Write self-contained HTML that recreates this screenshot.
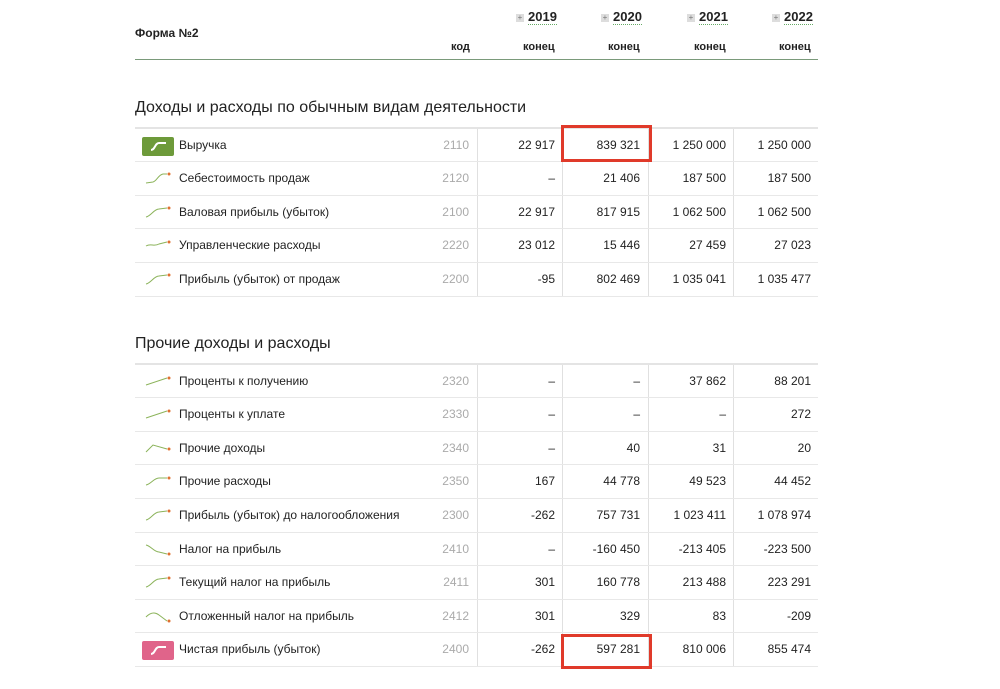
<!DOCTYPE html>
<html><head><meta charset="utf-8"><style>
*{margin:0;padding:0;box-sizing:border-box}
body{width:1000px;height:689px;background:#fff;font-family:"Liberation Sans",sans-serif;color:#222;position:relative;overflow:hidden}
.a{position:absolute}
.h{font-weight:bold;font-size:12px}
.yr{font-weight:bold;font-size:13px;border-bottom:1px dotted #6a6;line-height:15px}
.pl{display:inline-block;width:8px;height:8px;background:#ddd;color:#777;font-size:8px;line-height:8px;text-align:center;margin-right:4px;vertical-align:1px}
.t{font-size:16px;color:#222}
.r{position:absolute;left:135px;width:683px;height:34px;border-top:1px solid #e8e8e8;font-size:12px}
.r .n{position:absolute;left:44px;top:9px}
.r .c{position:absolute;right:349px;top:9px;color:#aaa}
.r .v{position:absolute;top:9px;text-align:right;width:80px}
.v1{left:340px}.v2{left:425px}.v3{left:511px}.v4{left:596px}
.r svg{position:absolute;left:10px;top:9px}
.vl{position:absolute;width:1px;background:#e0e0e0}
.box{position:absolute;border:3px solid #e03a2a}
</style></head><body>
<div class="a h" style="left:135px;top:26px">Форма №2</div>
<div class="a" style="left:516px;top:8px"><span class="pl">+</span><span class="yr">2019</span></div>
<div class="a" style="left:601px;top:8px"><span class="pl">+</span><span class="yr">2020</span></div>
<div class="a" style="left:687px;top:8px"><span class="pl">+</span><span class="yr">2021</span></div>
<div class="a" style="left:772px;top:8px"><span class="pl">+</span><span class="yr">2022</span></div>
<div class="a h" style="left:451px;top:41px;font-size:11px">код</div>
<div class="a h" style="left:523px;top:41px;font-size:11px">конец</div>
<div class="a h" style="left:608px;top:41px;font-size:11px">конец</div>
<div class="a h" style="left:694px;top:41px;font-size:11px">конец</div>
<div class="a h" style="left:779px;top:41px;font-size:11px">конец</div>
<div class="a" style="left:135px;top:59px;width:683px;height:1px;background:#7a9a7a"></div>

<div class="a t" style="left:135px;top:99px">Доходы и расходы по обычным видам деятельности</div>
<div class="vl" style="left:477px;top:127px;height:169px"></div>
<div class="vl" style="left:562px;top:127px;height:169px"></div>
<div class="vl" style="left:648px;top:127px;height:169px"></div>
<div class="vl" style="left:733px;top:127px;height:169px"></div>

<div class="r" style="top:127px;border-top:2px solid #e4e4e4"><div class="a" style="left:7px;top:8px;width:32px;height:19px;background:#6d9a3a;border-radius:2px"><svg width="32" height="19" style="left:0;top:0"><path d="M9 13 C13 13 13 6 17 6 L24 6" stroke="#fff" stroke-width="2" fill="none"/></svg></div><span class="n">Выручка</span><span class="c">2110</span><span class="v v1">22 917</span><span class="v v2">839 321</span><span class="v v3">1 250 000</span><span class="v v4">1 250 000</span></div>
<div class="r" style="top:161px"><svg width="28" height="14"><path d="M1 12 L8 11 C12 10 13 4 18 3 L22 3" stroke="#8bb35a" fill="none"/><circle cx="24" cy="3" r="1.5" fill="#e07030"/></svg><span class="n">Себестоимость продаж</span><span class="c">2120</span><span class="v v1">–</span><span class="v v2">21 406</span><span class="v v3">187 500</span><span class="v v4">187 500</span></div>
<div class="r" style="top:195px"><svg width="28" height="14"><path d="M1 12 C6 11 9 4 14 4 L22 3" stroke="#8bb35a" fill="none"/><circle cx="24" cy="3" r="1.5" fill="#e07030"/></svg><span class="n">Валовая прибыль (убыток)</span><span class="c">2100</span><span class="v v1">22 917</span><span class="v v2">817 915</span><span class="v v3">1 062 500</span><span class="v v4">1 062 500</span></div>
<div class="r" style="top:228px"><svg width="28" height="14"><path d="M1 8 C6 5 9 9 14 6 L22 4" stroke="#8bb35a" fill="none"/><circle cx="24" cy="4" r="1.5" fill="#e07030"/></svg><span class="n">Управленческие расходы</span><span class="c">2220</span><span class="v v1">23 012</span><span class="v v2">15 446</span><span class="v v3">27 459</span><span class="v v4">27 023</span></div>
<div class="r" style="top:262px"><svg width="28" height="14"><path d="M1 12 C6 11 9 4 14 4 L22 3" stroke="#8bb35a" fill="none"/><circle cx="24" cy="3" r="1.5" fill="#e07030"/></svg><span class="n">Прибыль (убыток) от продаж</span><span class="c">2200</span><span class="v v1">-95</span><span class="v v2">802 469</span><span class="v v3">1 035 041</span><span class="v v4">1 035 477</span></div>
<div class="a" style="left:135px;top:296px;width:683px;height:1px;background:#e8e8e8"></div>

<div class="a t" style="left:135px;top:335px">Прочие доходы и расходы</div>
<div class="vl" style="left:477px;top:363px;height:303px"></div>
<div class="vl" style="left:562px;top:363px;height:303px"></div>
<div class="vl" style="left:648px;top:363px;height:303px"></div>
<div class="vl" style="left:733px;top:363px;height:303px"></div>

<div class="r" style="top:363px;border-top:2px solid #e4e4e4"><svg width="28" height="14"><path d="M1 11 L22 4" stroke="#8bb35a" fill="none"/><circle cx="24" cy="4" r="1.5" fill="#e07030"/></svg><span class="n">Проценты к получению</span><span class="c">2320</span><span class="v v1">–</span><span class="v v2">–</span><span class="v v3">37 862</span><span class="v v4">88 201</span></div>
<div class="r" style="top:397px"><svg width="28" height="14"><path d="M1 11 L22 4" stroke="#8bb35a" fill="none"/><circle cx="24" cy="4" r="1.5" fill="#e07030"/></svg><span class="n">Проценты к уплате</span><span class="c">2330</span><span class="v v1">–</span><span class="v v2">–</span><span class="v v3">–</span><span class="v v4">272</span></div>
<div class="r" style="top:431px"><svg width="28" height="14"><path d="M1 11 L8 4 L22 8" stroke="#8bb35a" fill="none"/><circle cx="24" cy="8" r="1.5" fill="#e07030"/></svg><span class="n">Прочие доходы</span><span class="c">2340</span><span class="v v1">–</span><span class="v v2">40</span><span class="v v3">31</span><span class="v v4">20</span></div>
<div class="r" style="top:464px"><svg width="28" height="14"><path d="M1 11 C6 10 9 4 14 4 L22 4" stroke="#8bb35a" fill="none"/><circle cx="24" cy="4" r="1.5" fill="#e07030"/></svg><span class="n">Прочие расходы</span><span class="c">2350</span><span class="v v1">167</span><span class="v v2">44 778</span><span class="v v3">49 523</span><span class="v v4">44 452</span></div>
<div class="r" style="top:498px"><svg width="28" height="14"><path d="M1 12 C6 11 9 4 14 4 L22 3" stroke="#8bb35a" fill="none"/><circle cx="24" cy="3" r="1.5" fill="#e07030"/></svg><span class="n">Прибыль (убыток) до налогообложения</span><span class="c">2300</span><span class="v v1">-262</span><span class="v v2">757 731</span><span class="v v3">1 023 411</span><span class="v v4">1 078 974</span></div>
<div class="r" style="top:532px"><svg width="28" height="14"><path d="M1 3 C6 4 9 10 14 10 L22 12" stroke="#8bb35a" fill="none"/><circle cx="24" cy="12" r="1.5" fill="#e07030"/></svg><span class="n">Налог на прибыль</span><span class="c">2410</span><span class="v v1">–</span><span class="v v2">-160 450</span><span class="v v3">-213 405</span><span class="v v4">-223 500</span></div>
<div class="r" style="top:565px"><svg width="28" height="14"><path d="M1 12 C6 11 9 4 14 4 L22 3" stroke="#8bb35a" fill="none"/><circle cx="24" cy="3" r="1.5" fill="#e07030"/></svg><span class="n">Текущий налог на прибыль</span><span class="c">2411</span><span class="v v1">301</span><span class="v v2">160 778</span><span class="v v3">213 488</span><span class="v v4">223 291</span></div>
<div class="r" style="top:599px"><svg width="28" height="14"><path d="M1 8 C6 3 10 3 14 6 L22 12" stroke="#8bb35a" fill="none"/><circle cx="24" cy="12" r="1.5" fill="#e07030"/></svg><span class="n">Отложенный налог на прибыль</span><span class="c">2412</span><span class="v v1">301</span><span class="v v2">329</span><span class="v v3">83</span><span class="v v4">-209</span></div>
<div class="r" style="top:632px"><div class="a" style="left:7px;top:8px;width:32px;height:19px;background:#e0648a;border-radius:2px"><svg width="32" height="19" style="left:0;top:0"><path d="M9 13 C13 13 13 6 17 6 L24 6" stroke="#fff" stroke-width="2" fill="none"/></svg></div><span class="n">Чистая прибыль (убыток)</span><span class="c">2400</span><span class="v v1">-262</span><span class="v v2">597 281</span><span class="v v3">810 006</span><span class="v v4">855 474</span></div>
<div class="a" style="left:135px;top:666px;width:683px;height:1px;background:#e8e8e8"></div>

<div class="box" style="left:561px;top:125px;width:91px;height:37px"></div>
<div class="box" style="left:561px;top:634px;width:91px;height:35px"></div>
</body></html>
